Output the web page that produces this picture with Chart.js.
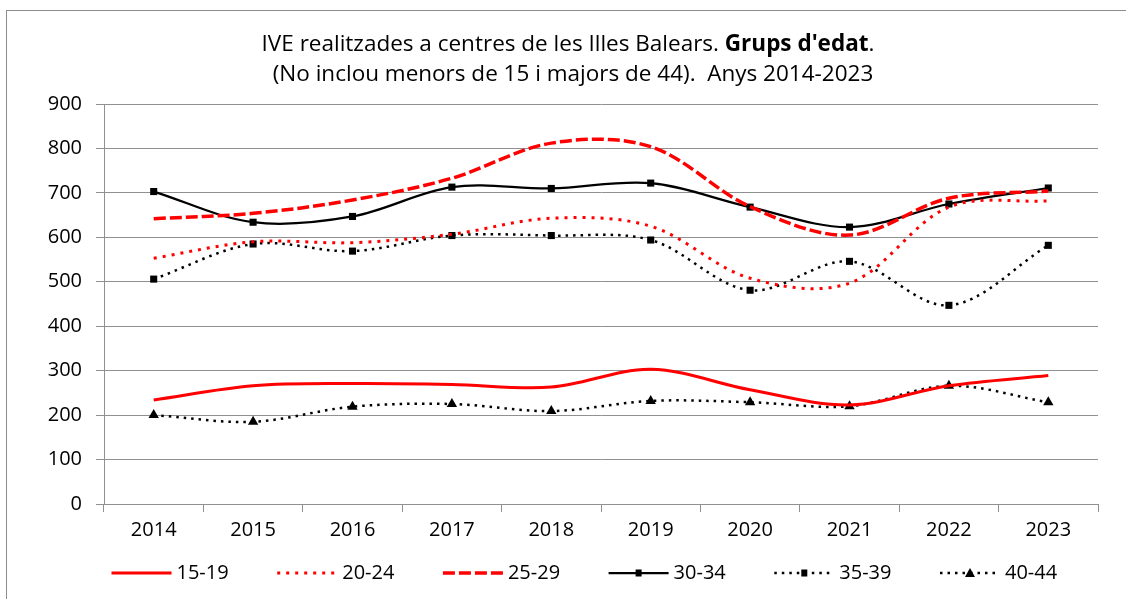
<!DOCTYPE html>
<html><head><meta charset="utf-8">
<script src="https://cdn.jsdelivr.net/npm/chart.js@4.4.1/dist/chart.umd.min.js"></script>
<style>html,body{margin:0;padding:0;background:#fff;overflow:hidden}#wrap{position:relative;width:1126px;height:599px}</style>
</head><body><div id="wrap"><canvas id="c" width="1126" height="599"></canvas></div>
<script>
const years = ['2014','2015','2016','2017','2018','2019','2020','2021','2022','2023'];
const s15_19 = [234,266,271,269,263,303,257,223,266,289];
const s20_24 = [553,590,588,607,643,625,508,497,668,682];
const s25_29 = [642,654,684,733,812,804,669,605,688,704];
const s30_34 = [703,634,647,713,710,722,668,623,675,711];
const s35_39 = [506,585,569,604,604,594,481,546,447,582];
const s40_44 = [200,185,219,225,209,232,229,220,266,229];
const seriesNames = ['15-19','20-24','25-29','30-34','35-39','40-44'];
const yTicks = [0,100,200,300,400,500,600,700,800,900];
const titleLine1 = ['IVE realitzades a centres de les Illes Balears. ', "Grups d'edat", '.'];
const titleLine2 = '(No inclou menors de 15 i majors de 44).  Anys 2014-2023';

const FONT = '"Open Sans", "Noto Sans", sans-serif';
const FS = 20;
const TFS = 22.5;
const RED = '#FF0000', BLACK = '#000000', GRID = '#909090';

function ds(label, data, color, width, dash, pstyle, prad) {
  return {label, data, borderColor: color, backgroundColor: color, borderWidth: width,
    borderDash: dash, borderCapStyle: 'butt', fill: false, tension: 0.34,
    pointStyle: pstyle || 'circle', pointRadius: prad || 0, pointHoverRadius: prad || 0,
    pointBackgroundColor: color, pointBorderColor: color, pointBorderWidth: 0};
}

const datasets = [
  ds(seriesNames[0], s15_19, RED, 3, [], null, 0),
  ds(seriesNames[1], s20_24, RED, 3, [3, 6], null, 0),
  ds(seriesNames[2], s25_29, RED, 3.5, [12, 4], null, 0),
  ds(seriesNames[3], s30_34, BLACK, 2.25, [], 'rect', 5),
  ds(seriesNames[4], s35_39, BLACK, 2.5, [2.5, 5], 'rect', 5),
  ds(seriesNames[5], s40_44, BLACK, 2.5, [2.5, 5], 'triangle', 6)
];

const framePlugin = {
  id: 'frame',
  beforeDraw(chart) {
    const ctx = chart.ctx;
    ctx.save();
    ctx.fillStyle = '#fff';
    ctx.fillRect(0, 0, chart.width, chart.height);
    ctx.strokeStyle = '#8c8c8c';
    ctx.lineWidth = 1;
    ctx.strokeRect(6.5, 10.5, 3000, 3000);
    ctx.restore();
  }
};

const titlePlugin = {
  id: 'mixedTitle',
  afterDraw(chart) {
    const ctx = chart.ctx;
    ctx.save();
    ctx.fillStyle = '#000';
    ctx.textBaseline = 'middle';
    const fonts = [TFS + 'px ' + FONT, 'bold ' + TFS + 'px ' + FONT, TFS + 'px ' + FONT];
    let total = 0;
    const widths = titleLine1.map((t, i) => { ctx.font = fonts[i]; const w = ctx.measureText(t).width; total += w; return w; });
    let x = 568 - total / 2;
    ctx.textAlign = 'left';
    titleLine1.forEach((t, i) => { ctx.font = fonts[i]; ctx.fillText(t, x, 45); x += widths[i]; });
    ctx.font = fonts[0];
    ctx.textAlign = 'center';
    ctx.fillText(titleLine2, 573, 75);
    ctx.restore();
  }
};

const legendPlugin = {
  id: 'customLegend',
  afterDraw(chart) {
    const ctx = chart.ctx;
    const y = 573;
    chart.data.datasets.forEach((d, i) => {
      const x0 = 111.5 + i * 165.7;
      const x1 = x0 + 60;
      ctx.save();
      ctx.strokeStyle = d.borderColor;
      ctx.lineWidth = d.borderWidth;
      ctx.setLineDash(d.borderDash || []);
      ctx.lineCap = 'butt';
      ctx.beginPath();
      ctx.moveTo(x0, y);
      ctx.lineTo(x1, y);
      ctx.stroke();
      ctx.setLineDash([]);
      ctx.fillStyle = d.borderColor;
      const cx = (x0 + x1) / 2;
      if (d.pointRadius > 0 && d.pointStyle === 'rect') {
        ctx.fillRect(cx - 3, y - 3.5, 6, 7);
      } else if (d.pointRadius > 0 && d.pointStyle === 'triangle') {
        ctx.beginPath();
        ctx.moveTo(cx, y - 5);
        ctx.lineTo(cx + 5, y + 4);
        ctx.lineTo(cx - 5, y + 4);
        ctx.closePath();
        ctx.fill();
      }
      ctx.fillStyle = '#000';
      ctx.font = FS + 'px ' + FONT;
      ctx.textAlign = 'left';
      ctx.textBaseline = 'middle';
      ctx.fillText(d.label, x1 + 5, y);
      ctx.restore();
    });
  }
};

function build() {
  new Chart(document.getElementById('c'), {
    type: 'line',
    data: {labels: years, datasets},
    plugins: [framePlugin, titlePlugin, legendPlugin],
    options: {
      responsive: false, animation: false, devicePixelRatio: 1,
      layout: {padding: {top: 104, right: 28, left: 0, bottom: 0}},
      plugins: {legend: {display: false}, title: {display: false}, tooltip: {enabled: false}},
      scales: {
        x: {
          type: 'category', offset: true,
          grid: {offset: true, drawOnChartArea: false, drawTicks: true, tickLength: 8, color: GRID, lineWidth: 1},
          border: {display: true, color: GRID, width: 1},
          ticks: {color: '#000', font: {family: FONT, size: FS}, padding: 6, maxRotation: 0, autoSkip: false},
          afterFit(s) { s.height = 95; }
        },
        y: {
          min: 0, max: 900,
          afterBuildTicks(s) { s.ticks = yTicks.map(v => ({value: v})); },
          grid: {color: GRID, lineWidth: 1, tickLength: 8},
          border: {display: true, color: GRID, width: 1},
          ticks: {color: '#000', font: {family: FONT, size: FS}, padding: 14},
          afterFit(s) { s.width = 104; }
        }
      }
    }
  });
}
const loads = [document.fonts.load(FS + 'px "Open Sans"'), document.fonts.load('bold ' + FS + 'px "Open Sans"')];
Promise.all(loads).then(build, build);
</script>
</body></html>
